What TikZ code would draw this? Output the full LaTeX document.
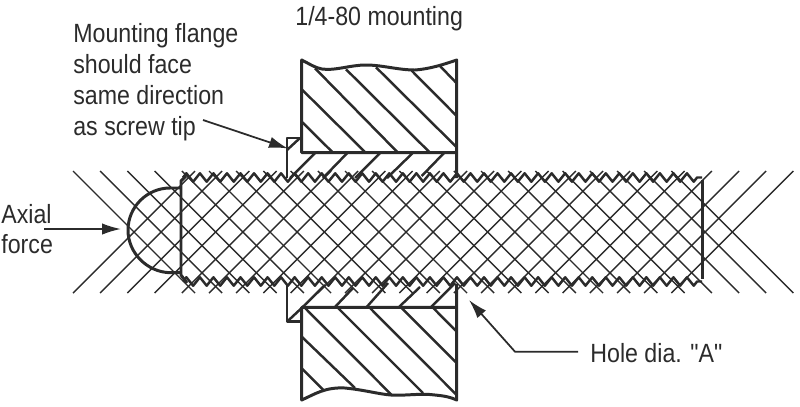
\documentclass[tikz,border=0pt]{standalone}
\usepackage{fontspec}
\setmainfont{Liberation Sans}[FakeStretch=0.88, Ligatures=TeXOff]
\usetikzlibrary{arrows.meta, decorations.pathmorphing}
\definecolor{ink}{HTML}{2B2B2B}
\tikzset{
	heavy/.style={draw=ink, line width=1.7pt, line join=round},
	hatch/.style={draw=ink, line width=1.4pt},
	fine/.style={draw=ink, line width=0.8pt},
	leader/.style={draw=ink, line width=1pt, -{Latex[length=10.8pt, width=6.5pt]}},
	label/.style={inner sep=0pt, text=ink, font=\fontsize{15}{17.6}\selectfont, align=left},
	thread/.style={heavy, line width=1.4pt, decorate, decoration={zigzag, segment length=7.7pt, amplitude=2.4pt}}
}
\begin{document}
\begin{tikzpicture}[x=0.02cm,y=-0.02cm]
	\useasboundingbox (0,0) rectangle (800,406);

	% section lines through screw and tip
	\foreach \k in {0,...,22} {
		\draw[fine] ({73+27.2*\k},171) -- ({195+27.2*\k},293);
		\draw[fine] ({73+27.2*\k},293) -- ({195+27.2*\k},171);
	}

	% screw
	\draw[thread] (183,177.5) -- (702,177.5);
	\draw[thread] (183,281.5) -- (702,281.5);
	\draw[heavy] (186,176) -- (181,181) -- (181,275) -- (187,283);
	\draw[heavy] (702,180) -- (702,279);
	\draw[heavy] (181,188) -- (170,188) .. controls (147,188) and (128,207) .. (128,230) .. controls (128,253) and (147,272) .. (170,272.7) -- (181,272.7);

	% upper plate
	\draw[heavy] (287,178) -- (287,138) -- (301.7,138);
	\draw[heavy] (456.7,178) -- (456.7,60) .. controls (445,64) and (430,69) .. (415,70) .. controls (398,70) and (382,65) .. (366,65) .. controls (350,65) and (335,71) .. (322,69) .. controls (315,68) and (308,63) .. (301.7,60) -- (301.7,152.7) -- (456.7,152.7);
	\foreach \ax/\ay/\bx/\by in {301.7/89.3/365/152, 301.7/121.7/332.3/152, 315/68.3/397.3/152, 346/69.3/429.3/152, 376/67.3/456.7/147.3, 411.7/70.7/456.7/116, 440/66/456.7/83.3}
		\draw[hatch] (\ax,\ay) -- (\bx,\by);
	\foreach \ax/\ay/\bx/\by in {300/138/287/150, 315/153/290/178, 347.3/153/323/178, 380/153/355/178, 412.7/153/387/178, 444/153/421.7/176}
		\draw[hatch] (\ax,\ay) -- (\bx,\by);

	% lower plate
	\draw[heavy] (287,284) -- (287,321.7) -- (301.7,321.7);
	\draw[heavy] (456.7,284) -- (456.7,400) .. controls (450,397) and (445,396) .. (435,395) .. controls (420,393) and (405,396) .. (391,395) .. controls (378,394) and (365,390) .. (345,388) .. controls (325,387) and (315,394) .. (301.7,400) -- (301.7,307.3) -- (456.7,307.3);
	\foreach \ax/\ay/\bx/\by in {305/308/391.7/395, 338/308/423/393, 370/308/456.7/395, 401.7/308/456.7/363, 433.3/308/456.7/331.7, 301.7/336.7/355/388, 301.7/368.3/323.3/390}
		\draw[hatch] (\ax,\ay) -- (\bx,\by);
	\foreach \ax/\ay/\bx/\by in {287/321.7/301.7/308, 301.7/308/325/285, 335/307/353/288, 366.7/307/388/283, 399/307/420/287, 431/307/455/283}
		\draw[hatch] (\ax,\ay) -- (\bx,\by);

	% labels
	\node[label, anchor=north west] (flangetext) at (73,23) {Mounting flange\\should face\\same direction\\as screw tip};
	\node[label, anchor=base west] (mounttext) at (295,25) {1/4-80 mounting};
	\node[label, anchor=base west] (axialtext) at (1,223) {Axial};
	\node[label, anchor=base west] (forcetext) at (1,253) {force};
	\node[label, anchor=base west] (holetext) at (590,362) {Hole dia. "A"};

	% leaders
	\coordinate (flangetip) at (288,148.5);
	\coordinate (flangestart) at (203,120);
	\coordinate (axialstart) at (44,229);
	\coordinate (axialtip) at (121,229);
	\coordinate (holetip) at (469,300);
	\coordinate (holebend) at (515,351.7);
	\coordinate (holestart) at (578,351.7);
	\draw[leader] (flangestart) -- (flangetip);
	\draw[leader] (axialstart) -- (axialtip);
	\draw[leader] (holestart) -- (holebend) -- (holetip);
\end{tikzpicture}
\end{document}
